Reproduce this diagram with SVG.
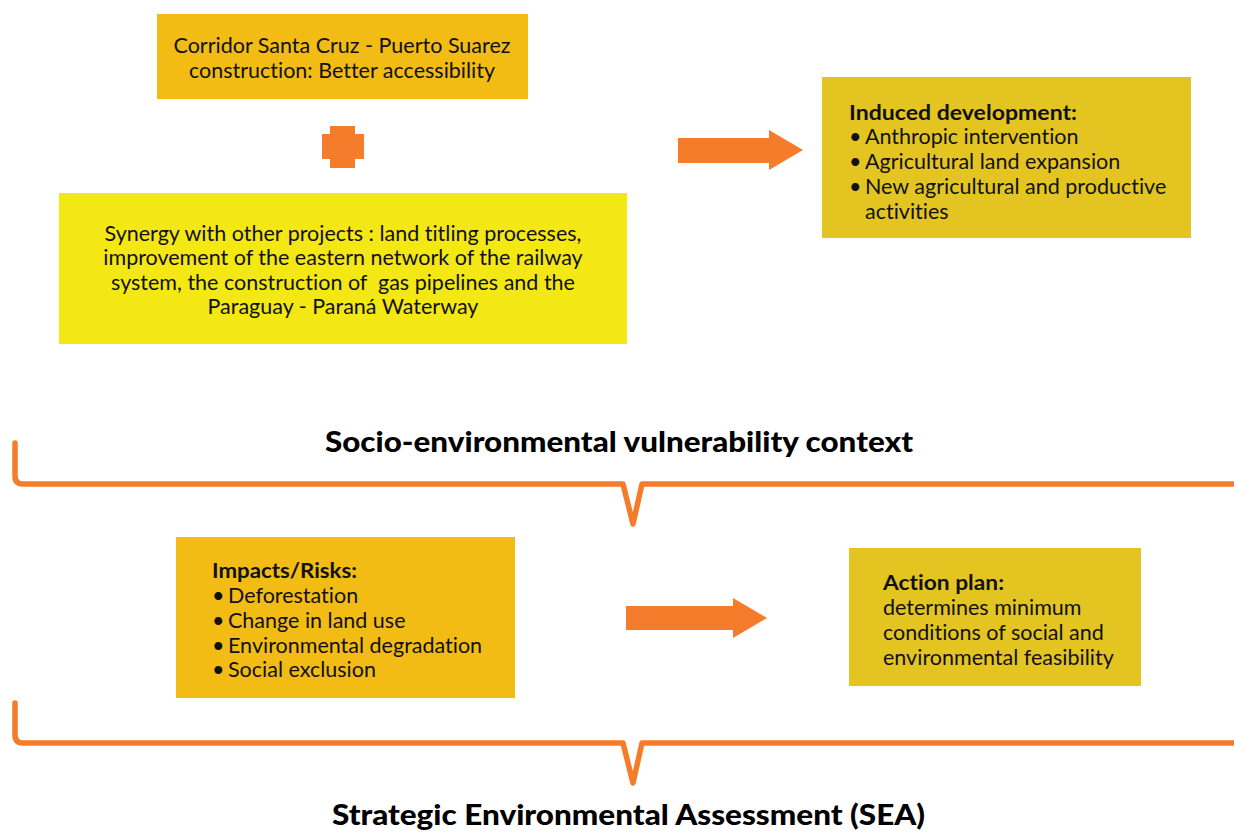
<svg xmlns="http://www.w3.org/2000/svg" width="1234" height="832" viewBox="0 0 1234 832">
  <style>
    .txt { font-family: Lato, "Noto Sans", "Liberation Sans", sans-serif; font-size: 21.5px; fill: #111; font-variant-ligatures: none; }
    .bold { font-weight: bold; }
    .title { font-family: Lato, "Noto Sans", "Liberation Sans", sans-serif; font-size: 28.5px; font-weight: 900; fill: #000; font-variant-ligatures: none; }
    .orange { fill: #F57C2A; }
    .bracket { fill: none; stroke: #F57C2A; stroke-width: 5.5; stroke-linecap: round; stroke-linejoin: round; }
  </style>
  <rect width="1234" height="832" fill="#ffffff"/>

  <!-- Corridor box -->
  <g id="corridor">
    <rect x="157" y="14" width="371" height="85" fill="#F2BC14"/>
    <text class="txt" text-anchor="middle" x="342" y="53">Corridor Santa Cruz - Puerto Suarez</text>
    <text class="txt" text-anchor="middle" x="342" y="78">construction: Better accessibility</text>
  </g>

  <!-- Plus sign joining the two source boxes -->
  <g id="plus">
    <path class="orange" d="M330 126 H355 V134 H364 V159 H355 V168 H330 V159 H322 V134 H330 Z"/>
  </g>

  <!-- Synergy box -->
  <g id="synergy">
    <rect x="59" y="193" width="568" height="151" fill="#F3E813"/>
    <text class="txt" text-anchor="middle" x="343" y="241">Synergy with other projects : land titling processes,</text>
    <text class="txt" text-anchor="middle" x="343" y="265">improvement of the eastern network of the railway</text>
    <text class="txt" text-anchor="middle" x="343" y="290" xml:space="preserve">system, the construction of  gas pipelines and the</text>
    <text class="txt" text-anchor="middle" x="343" y="314">Paraguay - Paraná Waterway</text>
  </g>

  <!-- Induced development box -->
  <g id="induced">
    <rect x="822" y="77" width="369" height="161" fill="#E3C421"/>
    <text class="txt bold" x="849" y="120" textLength="228" lengthAdjust="spacingAndGlyphs">Induced development:</text>
    <text class="txt" x="849" y="144">•</text><text class="txt" x="865" y="144">Anthropic intervention</text>
    <text class="txt" x="849" y="169">•</text><text class="txt" x="865" y="169">Agricultural land expansion</text>
    <text class="txt" x="849" y="194">•</text><text class="txt" x="865" y="194">New agricultural and productive</text>
    <text class="txt" x="865" y="219">activities</text>
  </g>

  <!-- Impacts box -->
  <g id="impacts">
    <rect x="176" y="537" width="339" height="161" fill="#F2BC14"/>
    <text class="txt bold" x="212" y="578" textLength="145" lengthAdjust="spacingAndGlyphs">Impacts/Risks:</text>
    <text class="txt" x="212" y="603">•</text><text class="txt" x="228" y="603">Deforestation</text>
    <text class="txt" x="212" y="628">•</text><text class="txt" x="228" y="628">Change in land use</text>
    <text class="txt" x="212" y="653">•</text><text class="txt" x="228" y="653">Environmental degradation</text>
    <text class="txt" x="212" y="677">•</text><text class="txt" x="228" y="677">Social exclusion</text>
  </g>

  <!-- Action plan box -->
  <g id="action">
    <rect x="849" y="548" width="292" height="138" fill="#E3C421"/>
    <text class="txt bold" x="883" y="590" textLength="121" lengthAdjust="spacingAndGlyphs">Action plan:</text>
    <text class="txt" x="883" y="615">determines minimum</text>
    <text class="txt" x="883" y="640">conditions of social and</text>
    <text class="txt" x="883" y="665">environmental feasibility</text>
  </g>

  <!-- Section titles -->
  <g id="context-title">
    <text class="title" x="325" y="452" textLength="588" lengthAdjust="spacingAndGlyphs">Socio-environmental vulnerability context</text>
  </g>
  <g id="sea-title">
    <text class="title" x="332" y="825" textLength="593" lengthAdjust="spacingAndGlyphs">Strategic Environmental Assessment (SEA)</text>
  </g>

  <!-- Connectors: block arrows and braces -->
  <g id="connectors">
    <path class="orange" d="M678 138 H769 V130 L803 150 L769 170 V163 H678 Z"/>
    <path class="orange" d="M626 606 H733 V598 L767 618 L733 638 V630 H626 Z"/>
    <path class="bracket" d="M15 443 V476 Q15 484 23 484 H623 L633 524 L642 484 H1240"/>
    <path class="bracket" d="M15 703 V735 Q15 743 23 743 H623 L633 783 L642 743 H1240"/>
  </g>
</svg>
